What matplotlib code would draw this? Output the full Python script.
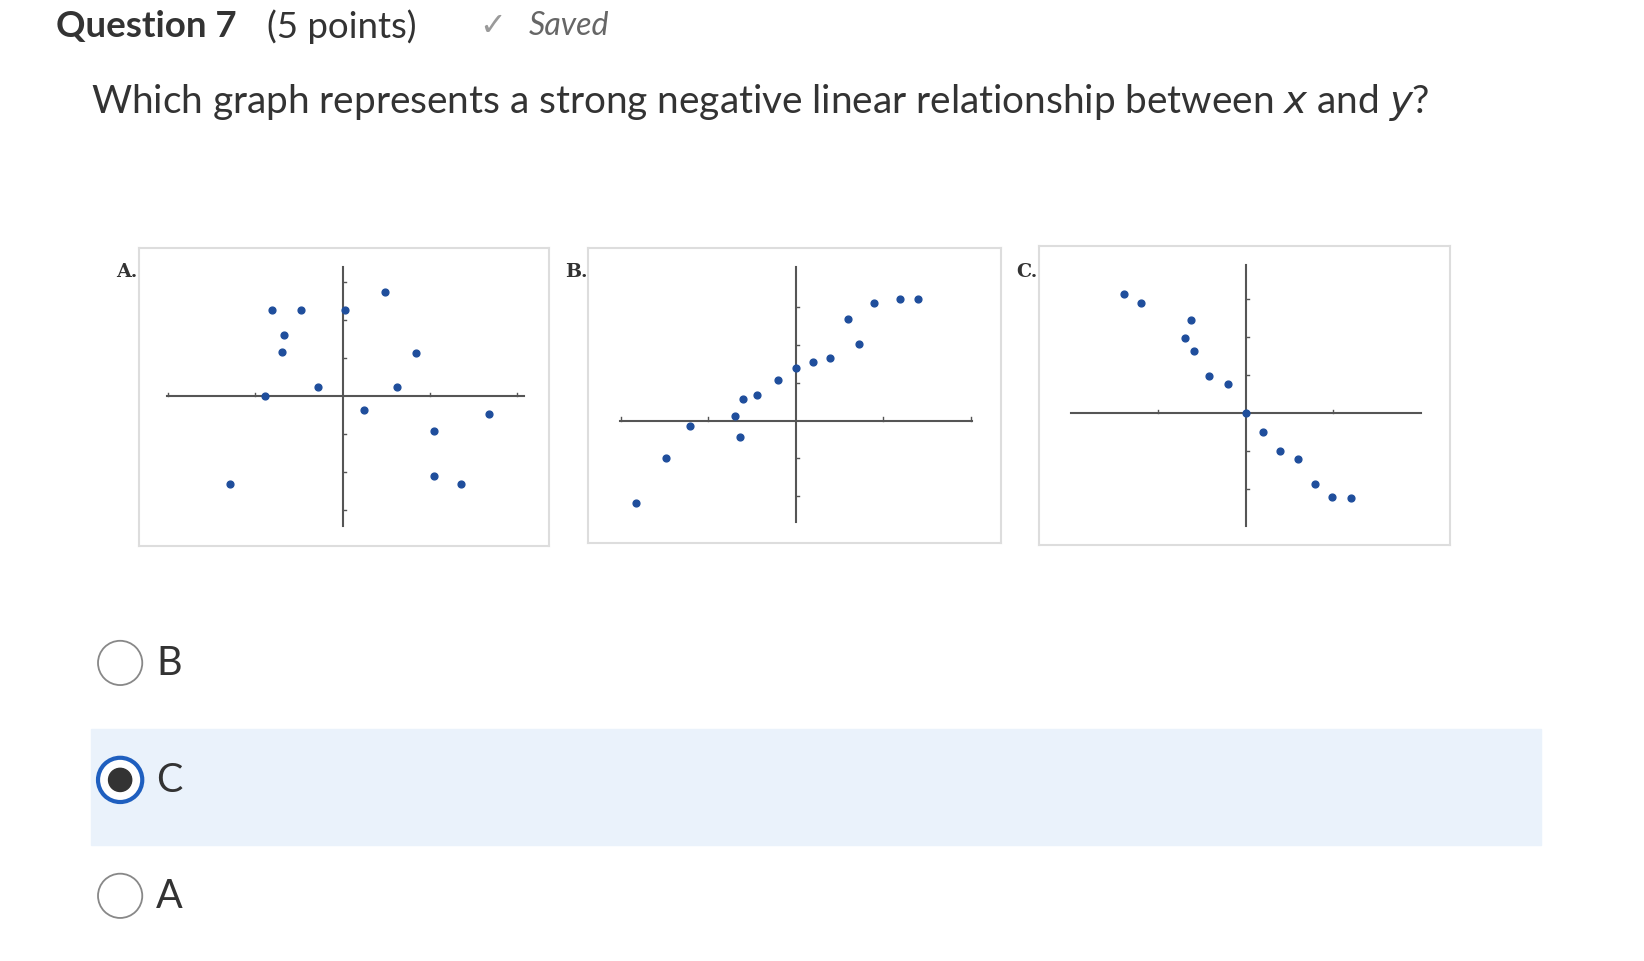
import matplotlib
matplotlib.use("Agg")
import matplotlib.pyplot as plt
from matplotlib.patches import Rectangle, Circle

W, H = 1644, 962
K = 1644 / 1560.0
Wd, Hd = W / K, H / K   # layout units
S = 40.0

a_x = [-1.68, -0.98, 0.05, 1.02, -1.38, -1.43, 1.75, -0.58, 1.3, -1.85, 0.52, 3.48, 2.18, 2.18, 2.8, -2.68]
a_y = [2.05, 2.05, 2.05, 2.48, 1.45, 1.05, 1.02, 0.22, 0.22, 0.0, -0.32, -0.42, -0.82, -1.88, -2.08, -2.08]
b_x = [-3.78, -3.08, -2.5, -1.45, -1.32, -1.25, -0.92, -0.42, 0.0, 0.4, 0.82, 1.25, 1.5, 1.85, 2.48, 2.9]
b_y = [-1.95, -0.88, -0.12, 0.1, -0.4, 0.5, 0.6, 0.95, 1.25, 1.4, 1.48, 2.42, 1.82, 2.78, 2.88, 2.88]
c_x = [-2.88, -2.48, -1.3, -1.45, -1.22, -0.88, -0.42, 0.0, 0.42, 0.82, 1.25, 1.65, 2.05, 2.5]
c_y = [2.82, 2.62, 2.2, 1.78, 1.48, 0.88, 0.68, 0.0, -0.45, -0.9, -1.08, -1.68, -1.98, -2.02]

panels = [
    ("A.", a_x, a_y, (132, 236, 521, 519), (325, 377), (158, 497), (254, 500)),
    ("B.", b_x, b_y, (558, 236, 950, 516), (755, 400), (588, 922), (254, 496)),
    ("C.", c_x, c_y, (986, 234, 1376, 518), (1182, 393), (1016, 1348), (252, 500)),
]

fig = plt.figure(figsize=(W/100, H/100), dpi=100)
bg = fig.add_axes([0, 0, 1, 1])
bg.set_xlim(0, Wd); bg.set_ylim(Hd, 0); bg.axis("off")

f = "Lato"
fs = lambda v: v * K
bg.text(53, 25, "Question 7", fontsize=fs(25), fontweight="bold", family=f, color="#333333", va="center")
bg.text(253, 25, "(5 points)", fontsize=fs(25), family=f, color="#333333", va="center")
bg.text(455, 25, "\u2713", fontsize=fs(22), family="DejaVu Sans", color="#9a9a9a", va="center")
bg.text(502, 25, "Saved", fontsize=fs(22), family=f, style="italic", color="#666666", va="center")
bg.text(86, 97, "Which graph represents a strong negative linear relationship between $\\it{x}$ and $\\it{y}$?",
        fontsize=fs(26.5), family=f, color="#333333", va="center")

bg.add_patch(Rectangle((86, 693), 1376, 110, color="#eaf2fb", zorder=0))
opts = ["B", "C", "A"]
ys = [630, 741, 851]
for lab, y in zip(opts, ys):
    sel = lab == "C"
    bg.add_patch(Circle((114, y), 21, facecolor="white",
                        edgecolor="#1f5fbf" if sel else "#888888", lw=3 if sel else 1.3))
    if sel:
        bg.add_patch(Circle((114, y), 11, color="#333333"))
    bg.text(148, y, lab, fontsize=fs(27), family=f, color="#333333", va="center")

for lab, xs, yv, (x0, y0, x1, y1), (ox, oy), (ax0, ax1), (ay0, ay1) in panels:
    ax = fig.add_axes([x0/Wd, 1-y1/Hd, (x1-x0)/Wd, (y1-y0)/Hd])
    ax.set_xlim((x0-ox)/S, (x1-ox)/S)
    ax.set_ylim((oy-y1)/S, (oy-y0)/S)
    ax.set_xticks([]); ax.set_yticks([])
    for sp in ax.spines.values():
        sp.set_color("#dddddd"); sp.set_linewidth(1.5)
    ax.plot([(ax0-ox)/S, (ax1-ox)/S], [0, 0], color="#555555", lw=1.5)
    ax.plot([0, 0], [(oy-ay1)/S, (oy-ay0)/S], color="#555555", lw=1.5)
    for t in (-4, -2, 2, 4):
        tx = t * 83/2/S
        if (ax0-ox)/S < tx < (ax1-ox)/S:
            ax.plot([tx, tx], [0, 0.08], color="#555555", lw=1)
    for t in (-3, -2, -1, 1, 2, 3):
        ty = t * 36/S
        if (oy-ay1)/S < ty < (oy-ay0)/S:
            ax.plot([0, 0.08], [ty, ty], color="#555555", lw=1)
    ax.scatter(xs, yv, s=24, color="#1f4e9c", zorder=3)
    bg.text(x0-22, 258, lab, fontsize=fs(13), family="DejaVu Serif", fontweight="bold", color="#333333", va="center")

fig.savefig("out.png", dpi=100)
